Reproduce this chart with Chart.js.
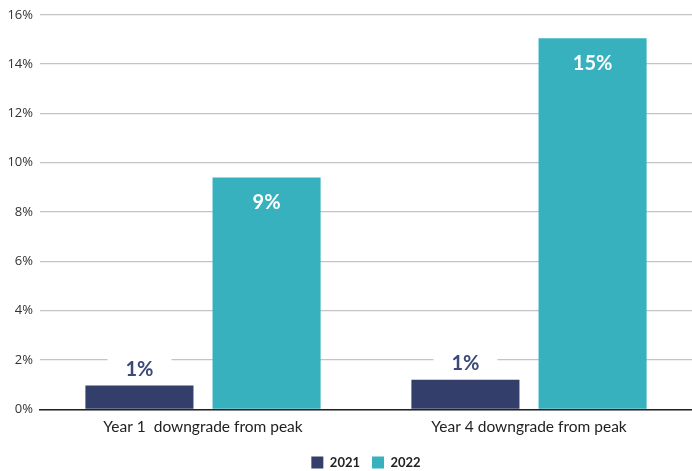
<!DOCTYPE html>
<html>
<head>
<meta charset="utf-8">
<script src="https://cdn.jsdelivr.net/npm/chart.js@4/dist/chart.umd.min.js"></script>
<style>
    html, body { margin: 0; padding: 0; background: #ffffff; }
    #wrap { width: 692px; height: 471px; }
</style>
</head>
<body>
<div id="wrap"><canvas id="downgradeChart" width="692" height="471"></canvas></div>
<script>
const categories = ['Year 1  downgrade from peak', 'Year 4 downgrade from peak'];
const seriesLabels = ['2021', '2022'];
const values2021 = [0.97, 1.2];
const values2022 = [9.4, 15.05];
const pointLabels2021 = ['1%', '1%'];
const pointLabels2022 = ['9%', '15%'];
const yTicks = [0, 2, 4, 6, 8, 10, 12, 14, 16];

const navy = '#333f6a';
const teal = '#36b1bd';
const labelFont = "'Lato', 'Noto Sans', sans-serif";

// labels: 2021 sits above its bar on a white patch, 2022 sits inside near the top
const barLabels = {
    id: 'barLabels',
    afterDatasetsDraw(chart) {
        const ctx = chart.ctx;
        ctx.save();
        ctx.textAlign = 'center';
        ctx.textBaseline = 'middle';
        ctx.font = "bold 20px " + labelFont;
        chart.data.datasets.forEach((ds, i) => {
            const meta = chart.getDatasetMeta(i);
            meta.data.forEach((bar, j) => {
                const txt = ds.pointLabels[j];
                if (i === 0) {
                    const y = bar.y - 16;
                    const w = ctx.measureText(txt).width + 36;
                    ctx.fillStyle = '#ffffff';
                    ctx.fillRect(bar.x - w / 2, y - 11, w, 22);
                    ctx.fillStyle = '#3b4878';
                    ctx.fillText(txt, bar.x, y);
                } else {
                    ctx.fillStyle = '#ffffff';
                    ctx.fillText(txt, bar.x, bar.y + 25);
                }
            });
        });
        ctx.restore();
    }
};

// legend is centred under the plot area, not the whole canvas
const legendShift = {
    id: 'legendShift',
    afterLayout(chart) {
        const off = (chart.chartArea.left + chart.chartArea.right) / 2 - chart.width / 2;
        chart.legend.left += off;
        chart.legend.right += off;
    }
};

new Chart(document.getElementById('downgradeChart'), {
    type: 'bar',
    data: {
        labels: categories,
        datasets: [
            { label: seriesLabels[0], data: values2021, pointLabels: pointLabels2021, backgroundColor: navy },
            { label: seriesLabels[1], data: values2022, pointLabels: pointLabels2022, backgroundColor: teal }
        ]
    },
    options: {
        responsive: false,
        devicePixelRatio: 1,
        animation: false,
        categoryPercentage: 0.78,
        barPercentage: 0.85,
        layout: { padding: { top: 3, right: 0, left: 0, bottom: -8 } },
        scales: {
            y: {
                min: 0,
                max: 16,
                afterBuildTicks: (axis) => { axis.ticks = yTicks.map(v => ({ value: v })); },
                afterFit: (axis) => { axis.width = 40; },
                grid: { color: '#c4c4c4', lineWidth: 1.3, drawTicks: false, tickLength: 0 },
                border: { display: false },
                ticks: {
                    padding: 7,
                    color: '#333333',
                    font: { family: "'Open Sans', sans-serif", size: 13 },
                    callback: v => v + '%'
                }
            },
            x: {
                grid: { display: false, drawTicks: false },
                border: { display: true, color: '#222222', width: 1.5 },
                ticks: {
                    padding: 8,
                    color: '#222222',
                    font: { family: labelFont, size: 15.5 }
                }
            }
        },
        plugins: {
            legend: {
                position: 'bottom',
                labels: {
                    boxWidth: 12,
                    boxHeight: 12,
                    padding: 12,
                    color: '#222222',
                    font: { family: labelFont, size: 13, weight: 'bold' }
                }
            },
            tooltip: { enabled: false }
        }
    },
    plugins: [barLabels, legendShift]
});
</script>
</body>
</html>
